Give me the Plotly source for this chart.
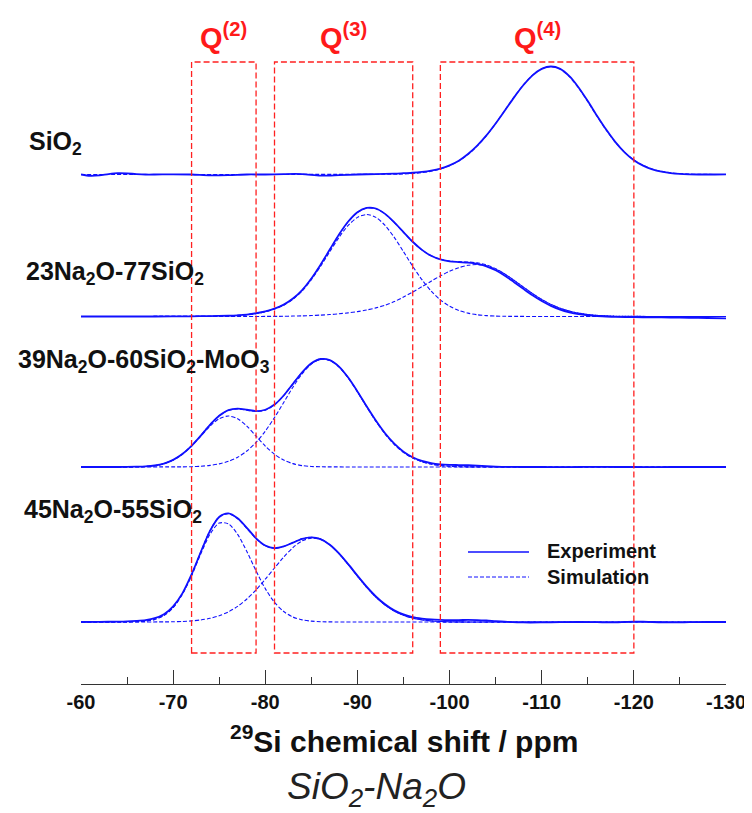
import plotly.graph_objects as go

# ---------------- data ----------------
TICK_VALUES = [-60, -70, -80, -90, -100, -110, -120, -130]
TICK_LABELS = ["-60", "-70", "-80", "-90", "-100", "-110", "-120", "-130"]

SAMPLE_LABELS = [
    "SiO<sub>2</sub>",
    "23Na<sub>2</sub>O-77SiO<sub>2</sub>",
    "39Na<sub>2</sub>O-60SiO<sub>2</sub>-MoO<sub>3</sub>",
    "45Na<sub>2</sub>O-55SiO<sub>2</sub>",
]
Q_LABELS = ["Q<sup>(2)</sup>", "Q<sup>(3)</sup>", "Q<sup>(4)</sup>"]
Q_RANGES = [(-72, -79), (-81, -96), (-99, -120)]  # ppm limits of each Q region

# Experimental spectra (normalised intensity)
SIO2_EXP_PPM = (list(range(-60, -69, -1)) + list(range(-70, -95, -2))
                + list(range(-95, -127, -1)) + [-128, -130])
SIO2_EXP_INT = [0.0, -0.012, -0.008, 0.004, 0.012, 0.010, 0.004, 0.0, 0.0,
                0.002, 0.0, -0.008, -0.006, 0.0, 0.0, 0.004, 0.004, -0.010, -0.006, 0.0, 0.004, 0.008,
                0.012, 0.016, 0.024, 0.036, 0.055, 0.085, 0.128, 0.19, 0.268, 0.362, 0.472, 0.592,
                0.714, 0.826, 0.918, 0.978, 1.0, 0.978, 0.91, 0.806, 0.68, 0.545, 0.416, 0.30,
                0.205, 0.132, 0.082, 0.048, 0.026, 0.012, 0.005, 0.002,
                0.0, 0.002]

NA23_EXP_PPM = [-60, -64, -68, -72, -74] + list(range(-76, -119, -1)) + [-120, -122, -124, -126, -128, -130]
NA23_EXP_INT = [0.0, 0.0, 0.0, 0.002, 0.004,
                0.007, 0.011, 0.018, 0.03, 0.047, 0.073, 0.11, 0.166, 0.245, 0.352,
                0.48, 0.62, 0.76, 0.88, 0.966, 1.006, 1.0, 0.95, 0.872, 0.782,
                0.692, 0.617, 0.562, 0.528, 0.511, 0.504, 0.498, 0.487, 0.465, 0.428,
                0.378, 0.318, 0.256, 0.196, 0.143, 0.099, 0.064, 0.039, 0.021, 0.01,
                0.003, -0.002, -0.004,
                -0.006, -0.008, -0.010, -0.012, -0.014, -0.018]

NA39_EXP_PPM = [-60, -62, -64] + list(range(-66, -107, -1)) + list(range(-108, -131, -2))
NA39_EXP_INT = [0.0, 0.0, 0.0,
                0.003, 0.006, 0.014, 0.032, 0.066, 0.12, 0.196, 0.29, 0.39, 0.474,
                0.527, 0.54, 0.53, 0.518, 0.53, 0.578, 0.662, 0.77, 0.876, 0.96,
                1.0, 0.99, 0.93, 0.828, 0.70, 0.562, 0.43, 0.312, 0.216, 0.142,
                0.09, 0.056, 0.036, 0.025, 0.02, 0.018, 0.016, 0.012, 0.008, 0.004, 0.002,
                0.0, 0.0, -0.002, 0.0, 0.002, 0.0, 0.0, -0.002, 0.0, 0.0, 0.0, 0.0]

NA45_EXP_PPM = ([-60, -62, -64] + list(range(-65, -107, -1))
                + [-108, -110, -112, -114, -116, -118, -119, -120, -121, -122, -124, -126, -128, -130])
NA45_EXP_INT = [0.0, 0.002, 0.003,
                0.005, 0.01, 0.018, 0.035, 0.072, 0.145, 0.265, 0.44, 0.648, 0.844,
                0.972, 1.005, 0.96, 0.872, 0.775, 0.708, 0.684, 0.70, 0.735, 0.77,
                0.784, 0.768, 0.716, 0.636, 0.536, 0.43, 0.328, 0.238, 0.165, 0.108,
                0.07, 0.045, 0.032, 0.024, 0.02, 0.018, 0.018, 0.019, 0.018, 0.014,
                0.008, 0.003,
                -0.004, -0.004, -0.002, 0.0, -0.002, -0.004, 0.0, 0.004, 0.003, 0.0, -0.004, -0.002, 0.0, 0.0]

# Simulations (1 ppm steps starting at the given ppm; zero elsewhere)
SIO2_SIM_START = -94
SIO2_SIM = [0.003, 0.005, 0.009, 0.017, 0.030, 0.050, 0.081, 0.125, 0.185, 0.264,
            0.360, 0.472, 0.594, 0.717, 0.829, 0.920, 0.979, 1.000, 0.976, 0.906,
            0.801, 0.674, 0.539, 0.411, 0.298, 0.206, 0.135, 0.085, 0.050, 0.029,
            0.015, 0.008, 0.004, 0.002, 0.001]

NA23_SIM_START = -76
NA23_SIM = [0.005, 0.010, 0.017, 0.028, 0.045, 0.071, 0.107, 0.164, 0.242, 0.350,
            0.478, 0.618, 0.757, 0.877, 0.963, 1.004, 0.998, 0.948, 0.870, 0.780,
            0.691, 0.617, 0.563, 0.530, 0.514, 0.508, 0.505, 0.497, 0.478, 0.443,
            0.394, 0.335, 0.273, 0.212, 0.158, 0.112, 0.076, 0.050, 0.031, 0.018,
            0.010, 0.006, 0.003, 0.002, 0.001]
NA23_Q3_START = -76
NA23_Q3 = [0.005, 0.010, 0.017, 0.028, 0.045, 0.070, 0.105, 0.160, 0.236, 0.341,
           0.465, 0.600, 0.732, 0.843, 0.918, 0.944, 0.918, 0.843, 0.732, 0.600,
           0.465, 0.341, 0.236, 0.154, 0.095, 0.056, 0.031, 0.016, 0.008, 0.004,
           0.002, 0.001]
NA23_Q4_START = -81
NA23_Q4 = [0.001, 0.002, 0.004, 0.006, 0.009, 0.013, 0.018, 0.025, 0.034, 0.045,
           0.060, 0.080, 0.105, 0.138, 0.180, 0.226, 0.276, 0.327, 0.376, 0.419,
           0.452, 0.474, 0.481, 0.470, 0.439, 0.392, 0.334, 0.273, 0.212, 0.158,
           0.112, 0.076, 0.050, 0.031, 0.018, 0.010, 0.006, 0.003, 0.002, 0.001]

NA39_SIM_START = -66
NA39_SIM = [0.002, 0.005, 0.013, 0.031, 0.065, 0.120, 0.197, 0.293, 0.393, 0.476,
            0.525, 0.537, 0.526, 0.514, 0.526, 0.576, 0.662, 0.770, 0.876, 0.959,
            1.000, 0.988, 0.927, 0.825, 0.697, 0.559, 0.425, 0.307, 0.210, 0.136,
            0.084, 0.049, 0.027, 0.014, 0.007, 0.003, 0.0015]
NA39_Q2_START = -66
NA39_Q2 = [0.002, 0.005, 0.013, 0.031, 0.064, 0.118, 0.194, 0.286, 0.378, 0.447,
           0.472, 0.447, 0.378, 0.286, 0.194, 0.118, 0.064, 0.031, 0.013, 0.005,
           0.002, 0.001]
NA39_Q3_START = -70
NA39_Q3 = [0.001, 0.0015, 0.003, 0.007, 0.015, 0.029, 0.053, 0.090, 0.148, 0.228,
           0.332, 0.458, 0.598, 0.739, 0.863, 0.954, 0.998, 0.987, 0.927, 0.825,
           0.697, 0.559, 0.425, 0.307, 0.210, 0.136, 0.084, 0.049, 0.027, 0.014,
           0.007, 0.003, 0.0015]

NA45_SIM_START = -64
NA45_SIM = [0.0, 0.001, 0.003, 0.008, 0.024, 0.061, 0.135, 0.260, 0.438, 0.650,
            0.846, 0.974, 1.003, 0.956, 0.866, 0.771, 0.705, 0.682, 0.699, 0.735,
            0.771, 0.785, 0.768, 0.715, 0.633, 0.532, 0.424, 0.321, 0.230, 0.157,
            0.101, 0.062, 0.036, 0.020, 0.010, 0.005, 0.0025, 0.001]
NA45_Q2_START = -65
NA45_Q2 = [0.001, 0.003, 0.008, 0.024, 0.060, 0.133, 0.255, 0.428, 0.631, 0.812,
           0.916, 0.909, 0.811, 0.653, 0.473, 0.309, 0.182, 0.097, 0.046, 0.020,
           0.008, 0.003, 0.001]
NA45_Q3_START = -69
NA45_Q3 = [0.001, 0.002, 0.005, 0.010, 0.019, 0.034, 0.058, 0.094, 0.145, 0.213,
           0.298, 0.396, 0.500, 0.602, 0.689, 0.751, 0.777, 0.765, 0.714, 0.633,
           0.532, 0.424, 0.321, 0.230, 0.157, 0.101, 0.062, 0.036, 0.020, 0.010,
           0.005, 0.0025, 0.001]

# ---------------- layout helpers (pixel placement) ----------------
# page body has an 8 px margin, so the figure is drawn 8 px right / down
OFF = 8
W, H = 744, 805
AXIS_PX = 684                 # screen row of the x axis line
PLOT_L_PX, PLOT_R_PX = 81, 726  # screen columns of -60 and -130
L = PLOT_L_PX - OFF
R = W - (PLOT_R_PX - OFF)
T = 0
B = H - (AXIS_PX - OFF)
PLOT_H = AXIS_PX - OFF - T    # 676
PLOT_W = PLOT_R_PX - PLOT_L_PX
UNIT_PX = 108.0               # pixels per intensity unit
PPM_MIN, PPM_MAX = -60, -130


def ypx(p):
    """screen row -> y data value"""
    return (AXIS_PX - p) / UNIT_PX


def xp(p):
    """screen column -> paper x"""
    return (p - PLOT_L_PX) / PLOT_W


def yp(p):
    """screen row -> paper y"""
    return (AXIS_PX - p) / PLOT_H


BASE = [ypx(174.5), ypx(316.5), ypx(467), ypx(622)]

BLUE = "#1010ff"
FONT = "Liberation Sans, Arial, Helvetica, sans-serif"


def window(start, vals):
    xs = [PPM_MIN] + [start - i for i in range(len(vals))] + [PPM_MAX]
    ys = [0.0] + list(vals) + [0.0]
    return xs, ys


fig = go.Figure()


def add_line(xs, ys, base, dashed):
    fig.add_trace(go.Scatter(
        x=xs, y=[v + base for v in ys], mode="lines",
        line=dict(color=BLUE, width=1.1 if dashed else 1.8,
                  dash="4px,2px" if dashed else "solid", shape="spline", smoothing=0.8),
        hoverinfo="skip", showlegend=False))


# SiO2
add_line(*window(SIO2_SIM_START, SIO2_SIM), BASE[0], True)
add_line(SIO2_EXP_PPM, SIO2_EXP_INT, BASE[0], False)
# 23Na2O-77SiO2
add_line(*window(NA23_Q3_START, NA23_Q3), BASE[1], True)
add_line(*window(NA23_Q4_START, NA23_Q4), BASE[1], True)
add_line(*window(NA23_SIM_START, NA23_SIM), BASE[1], True)
add_line(NA23_EXP_PPM, NA23_EXP_INT, BASE[1], False)
# 39Na2O-60SiO2-MoO3
add_line(*window(NA39_Q2_START, NA39_Q2), BASE[2], True)
add_line(*window(NA39_Q3_START, NA39_Q3), BASE[2], True)
add_line(*window(NA39_SIM_START, NA39_SIM), BASE[2], True)
add_line(NA39_EXP_PPM, NA39_EXP_INT, BASE[2], False)
# 45Na2O-55SiO2
add_line(*window(NA45_Q2_START, NA45_Q2), BASE[3], True)
add_line(*window(NA45_Q3_START, NA45_Q3), BASE[3], True)
add_line(*window(NA45_SIM_START, NA45_SIM), BASE[3], True)
add_line(NA45_EXP_PPM, NA45_EXP_INT, BASE[3], False)

# Q region boxes and labels
shapes = []
annotations = []
for (x0, x1), lab in zip(Q_RANGES, Q_LABELS):
    shapes.append(dict(type="rect", xref="x", yref="y", x0=x0, x1=x1,
                       y0=ypx(653), y1=ypx(62),
                       line=dict(color="#ff2020", width=1.3, dash="6px,3px"),
                       fillcolor="rgba(0,0,0,0)", layer="above"))
    annotations.append(dict(x=(x0 + x1) / 2, y=ypx(36), xref="x", yref="y",
                            text="<b>" + lab + "</b>", showarrow=False,
                            xanchor="center", yanchor="middle",
                            font=dict(family=FONT, size=29, color="#ff1a1a")))

# sample labels (left of the plot area -> paper coordinates)
label_pos = [(27, 143), (24, 273), (16, 361), (22, 511)]
for (lx, ly), lab in zip(label_pos, SAMPLE_LABELS):
    annotations.append(dict(x=xp(lx), y=yp(ly), xref="paper", yref="paper",
                            text="<b>" + lab + "</b>", showarrow=False,
                            xanchor="left", yanchor="middle",
                            font=dict(family=FONT, size=25, color="#111111")))

# legend
shapes.append(dict(type="line", xref="paper", yref="paper", x0=xp(468), x1=xp(529),
                   y0=yp(552), y1=yp(552), line=dict(color=BLUE, width=1.6)))
shapes.append(dict(type="line", xref="paper", yref="paper", x0=xp(468), x1=xp(529),
                   y0=yp(577), y1=yp(577), line=dict(color=BLUE, width=1.0, dash="4px,2px")))
for ty, txt in [(551, "Experiment"), (577, "Simulation")]:
    annotations.append(dict(x=xp(545), y=yp(ty), xref="paper", yref="paper",
                            text="<b>" + txt + "</b>", showarrow=False,
                            xanchor="left", yanchor="middle",
                            font=dict(family=FONT, size=20, color="#111111")))

# axis title and caption
annotations.append(dict(x=xp(404), y=yp(739), xref="paper", yref="paper",
                        text="<b><sup>29</sup>Si chemical shift / ppm</b>", showarrow=False,
                        xanchor="center", yanchor="middle",
                        font=dict(family=FONT, size=30, color="#111111")))
annotations.append(dict(x=xp(376), y=yp(789), xref="paper", yref="paper",
                        text="<i>SiO<sub>2</sub>-Na<sub>2</sub>O</i>", showarrow=False,
                        xanchor="center", yanchor="middle",
                        font=dict(family=FONT, size=37, color="#222222")))

fig.update_layout(
    width=W, height=H,
    margin=dict(l=L, r=R, t=T, b=B, autoexpand=False),
    plot_bgcolor="white", paper_bgcolor="white",
    showlegend=False,
    shapes=shapes, annotations=annotations,
    xaxis=dict(range=[PPM_MIN, PPM_MAX], tickvals=TICK_VALUES, ticktext=TICK_LABELS,
               ticks="inside", ticklen=14, tickwidth=1, tickcolor="#333333",
               showline=True, linecolor="#333333", linewidth=1,
               showgrid=False, zeroline=False, automargin=False,
               minor=dict(dtick=5, ticks="inside", ticklen=7, tickcolor="#333333", tickwidth=1),
               tickfont=dict(family=FONT, size=20, color="#111111", weight="bold")),
    yaxis=dict(range=[0, PLOT_H / UNIT_PX], visible=False, showgrid=False,
               zeroline=False, automargin=False),
)

fig.write_html("out.html")
